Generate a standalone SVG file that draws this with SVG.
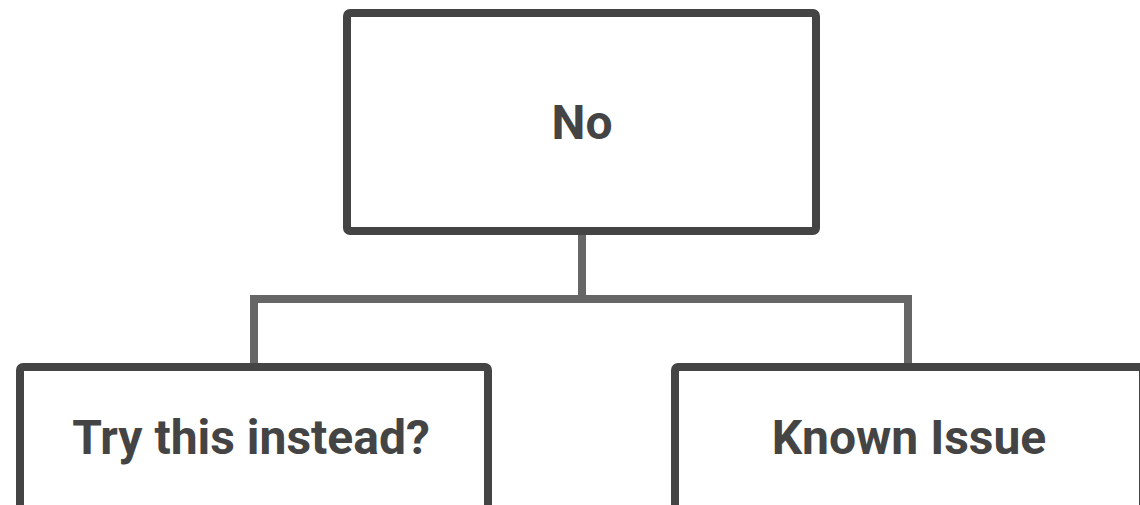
<svg xmlns="http://www.w3.org/2000/svg" width="1140" height="505" viewBox="0 0 1140 505">
  <style>
    .box { fill: #ffffff; stroke: #444444; stroke-width: 8; }
    .label { font-family: Roboto, "Liberation Sans", sans-serif; font-weight: 700; font-size: 48px; fill: #444444; text-anchor: middle; }
    .wire { fill: none; stroke: #666666; stroke-width: 8; }
  </style>
  <rect width="1140" height="505" fill="#ffffff"/>
  <g id="connectors">
    <path class="wire" d="M582 231 V299 M250 299 H912 M254 299 V367 M908 299 V367"/>
  </g>
  <g id="node-no">
    <rect class="box" x="347" y="13" width="469" height="218" rx="3"/>
    <text class="label" x="582" y="139">No</text>
  </g>
  <g id="node-try">
    <rect class="box" x="20" y="367" width="468" height="160" rx="3"/>
    <text class="label" x="251" y="454">Try this instead?</text>
  </g>
  <g id="node-known">
    <rect class="box" x="675" y="367" width="468" height="160" rx="3"/>
    <text class="label" x="909" y="454">Known Issue</text>
  </g>
</svg>
